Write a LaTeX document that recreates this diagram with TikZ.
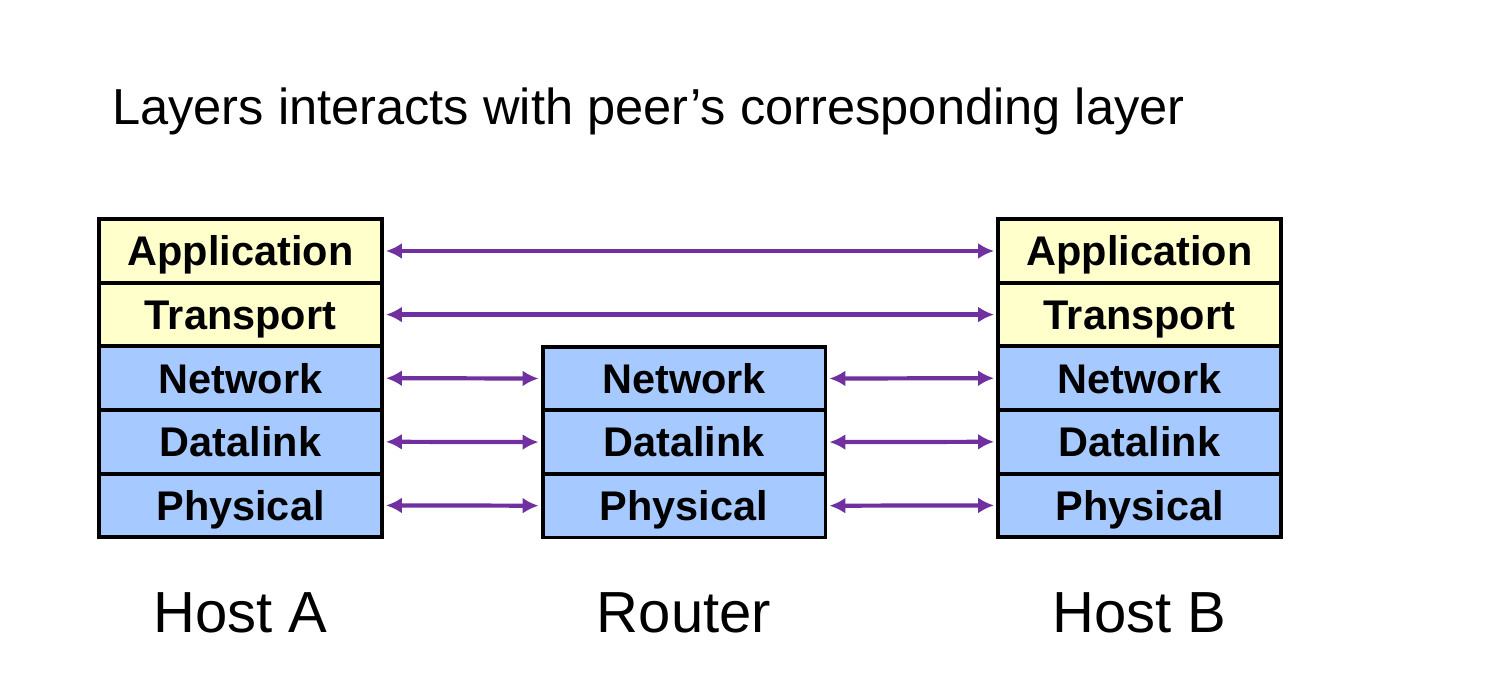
\documentclass[tikz,border=0pt]{standalone}
\usepackage{fontspec}
\setmainfont{Liberation Sans}
\usetikzlibrary{positioning,arrows.meta}
\definecolor{appyellow}{HTML}{FFFFCC}
\definecolor{netblue}{HTML}{A6CAFF}
\definecolor{peerpurple}{HTML}{7030A0}
\tikzset{
	layer/.style={draw=black, line width=2.2pt, minimum width=161pt, minimum height=36.2pt, inner sep=0pt, outer sep=0pt, text height=16.9pt, text depth=0pt, font=\fontsize{23.6}{26}\selectfont\bfseries},
	upper/.style={layer, fill=appyellow},
	lower/.style={layer, fill=netblue},
	peer/.style={peerpurple, line width=2.4pt, {Latex[length=9pt,width=9pt]}-{Latex[length=9pt,width=9pt]}, shorten <=2.3pt, shorten >=2.3pt},
	hostlabel/.style={anchor=base, font=\fontsize{33}{36}\selectfont}
}

\begin{document}
\begin{tikzpicture}[x=0.02cm, y=-0.02cm]
		%%%%% START %%%%%
		\useasboundingbox (0, 0) rectangle (1498, 692);
		
		\node[anchor=base west, font=\fontsize{28.8}{32}\selectfont] (title) at (106, 125) {Layers interacts with peer’s corresponding layer};
		
		% host A
		\node[upper] (aApp) at (240.5, 251) {Application};
		\node[upper, below=0pt of aApp] (aTrans) {Transport};
		\node[lower, below=0pt of aTrans] (aNet) {Network};
		\node[lower, below=0pt of aNet] (aData) {Datalink};
		\node[lower, below=0pt of aData] (aPhys) {Physical};
		
		% router
		\node[lower] (rNet) at (684, 378.5) {Network};
		\node[lower, below=0pt of rNet] (rData) {Datalink};
		\node[lower, below=0pt of rData] (rPhys) {Physical};
		
		% host B
		\node[upper] (bApp) at (1139.5, 251) {Application};
		\node[upper, below=0pt of bApp] (bTrans) {Transport};
		\node[lower, below=0pt of bTrans] (bNet) {Network};
		\node[lower, below=0pt of bNet] (bData) {Datalink};
		\node[lower, below=0pt of bData] (bPhys) {Physical};
		
		\node[hostlabel] (hostA) at (240.5, 632) {Host A};
		\node[hostlabel] (router) at (684, 632) {Router};
		\node[hostlabel] (hostB) at (1139.5, 632) {Host B};
		
		% peer links
		\draw[peer] (aApp.east) -- (bApp.west);
		\draw[peer] (aTrans.east) -- (bTrans.west);
		\draw[peer] (aNet.east) -- (rNet.west);
		\draw[peer] (aData.east) -- (rData.west);
		\draw[peer] (aPhys.east) -- (rPhys.west);
		\draw[peer] (rNet.east) -- (bNet.west);
		\draw[peer] (rData.east) -- (bData.west);
		\draw[peer] (rPhys.east) -- (bPhys.west);
		
		%%%%% END %%%%%
	\end{tikzpicture}
\end{document}
